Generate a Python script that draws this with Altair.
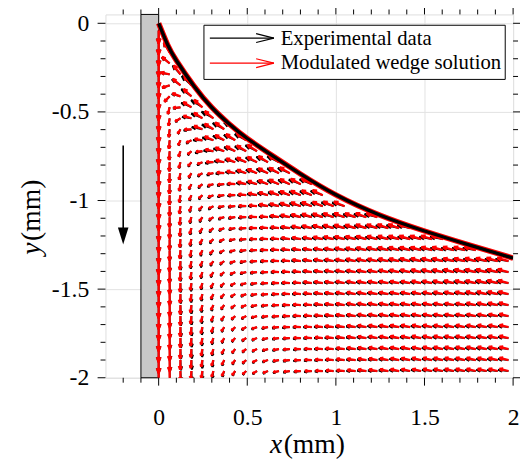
import math
import altair as alt
import pandas as pd

FONT = "Liberation Serif"

# ---------------- data ----------------
# grid of the velocity field (mm)
COL_X = [0.000, 0.062, 0.123, 0.185, 0.247, 0.309, 0.370, 0.432, 0.494, 0.555, 0.617,
         0.679, 0.740, 0.802, 0.864, 0.926, 0.987, 1.049, 1.111, 1.172, 1.234, 1.296,
         1.357, 1.419, 1.481, 1.543, 1.604, 1.666, 1.728, 1.789, 1.851, 1.913, 1.974]
ROW_Y = [-0.040, -0.102, -0.164, -0.226, -0.288, -0.350, -0.412, -0.474, -0.536, -0.598,
         -0.660, -0.722, -0.784, -0.846, -0.908, -0.970, -1.032, -1.094, -1.156, -1.218,
         -1.280, -1.342, -1.404, -1.466, -1.528, -1.590, -1.652, -1.714, -1.776, -1.838,
         -1.900, -1.962]

# modulated wedge solution: per row, "direction(deg)/speed(% of plate speed)", "*n" = repeated n times
MODEL_ROWS = [
    "270/100",
    "270/100",
    "270/100 120/86",
    "270/100 140/76",
    "270/100 168/67 127/85",
    "270/100 197/60 140/76 128/89",
    "270/100 225/57 160/65 137/82",
    "270/100 255/53 184/55 148/74 138/85",
    "270/100 262/57 211/46 163/63 147/77 141/86",
    "270/100 264/60 238/39 181/52 158/69 148/79 143/86 141/89",
    "270/100 265/64 245/41 204/41 169/59 156/72 150/80 147/85 144/88",
    "270/100 266/67 249/43 219/36 184/48 166/62 157/73 152/80 149/84 146/88",
    "270/100 267/69 253/46 227/37 199/39 177/53 165/66 158/73 154/79 151/83 148/87 147/89",
    "270/100 268/71 256/49 234/38 206/37 187/44 174/56 165/66 159/73 156/79 153/83 151/86 150/88",
    "270/100 268/73 258/51 239/39 214/37 193/42 182/48 173/57 165/67 160/73 157/78 155/82 153/84 152/87 151/89",
    "270/100 268/74 260/54 243/40 220/36 198/40 185/46 178/52 172/59 166/67 162/72 159/77 157/80 156/83 155/85 154/87",
    "270/100 269/76 261/56 247/42 226/37 204/38 188/43 181/49 176/55 172/60 167/67 164/72 161/76 159/79 158/82 157/84 156/86 157/88",
    "270/100 269/77 263/58 250/43 231/37 209/37 193/41 184/47 178/53 174/58 172/61 168/65 165/70 163/74 161/78 160/80 159/83 159/85 160/86 159/87 160/89",
    "270/100 269/78 264/60 252/45 235/38 215/37 198/40 186/45 180/50 176/55 173/59 171/62 169/65 166/69 165/73 163/76 162/79 162/81 162/82 161/84 161/85 161/87 161/88 161/89",
    "270/100 269/79 264/61 254/48 239/39 220/36 203/38 189/43 182/48 177/53 174/57 172/61 169/63 168/65 167/67 166/72 165/75 164/77 164/79 163/80 163/82 163/83 163/84 163/86 163/87 163/88 163/89",
    "270/100 269/80 265/63 256/49 243/40 225/37 207/37 193/41 185/46 179/51 176/55 173/59 171/62 169/64 168/65 167/67 167/70 166/73 166/75 165/77 165/78 165/80 164/81 164/82 164/83 164/85 164/86 164/87 164/88 164/89",
    "270/100 269/81 266/65 257/50 246/41 229/37 212/37 197/40 187/44 181/49 177/53 174/57 172/60 170/63 168/64 167/66 167/67 167/69 166/72 166/73 166/75 166/76 166/77 165/79 165/80 165/81 165/82 165/83 165/84 164/85 164/86 164/88 164/89",
    "270/100 269/82 266/66 259/52 248/42 233/38 216/36 201/39 189/43 183/47 179/51 175/55 173/58 171/61 169/63 168/65 167/66 167/68 167/69 167/70 167/71 166/72 166/74 166/75 166/76 166/78 166/79 165/80 165/81 165/82 165/83 165/84 165/85",
    "270/100 270/83 267/67 260/54 250/43 237/38 220/36 205/37 193/41 186/45 180/50 177/53 174/57 172/59 170/62 169/64 168/65 167/67 167/68 167/69 167/70*3 167/71 167/73 166/74 166/75 166/76 166/77 166/78 165/79 165/81 165/82",
    "270/100 270/83 267/68 261/55 252/45 240/39 225/37 209/37 197/40 187/44 182/48 178/52 175/55 173/58 171/61 169/63 168/64 167/66 167/67 167/68 167/69 167/70*4 167/71 167/72 166/73 166/74 166/75 166/76 166/77 166/78",
    "270/100 270/84 268/70 262/57 253/47 242/40 229/37 214/37 200/39 190/43 184/47 180/50 177/53 174/57 172/59 170/62 169/63 168/65 167/66 167/67 167/69 167/69 167/70*7 167/71 167/72 167/73 166/74",
    "270/100 270/85 268/71 263/58 255/48 244/41 232/38 218/36 205/38 193/41 186/45 182/49 178/52 175/55 173/58 172/61 170/63 169/64 168/65 167/66 167/68 167/69 167/69 167/70*9 167/71",
    "270/100 270/85 268/72 264/59 256/49 247/42 235/38 221/36 207/37 197/40 188/44 183/47 179/51 176/54 174/57 172/59 171/62 170/63 169/64 168/66 167/67 167/68 167/69 167/70*10",
    "270/100 270/85 268/72 264/60 257/50 248/43 237/38 224/36 211/37 200/39 190/43 185/46 181/49 178/53 175/56 173/58 172/60 170/62 169/64 168/65 167/66 167/67 167/68 167/69 167/70*9",
    "270/100 270/86 268/73 265/62 258/51 250/44 240/39 228/37 215/36 203/38 193/41 187/45 182/48 179/51 176/54 174/57 173/59 171/61 170/63 169/64 168/65 167/66 167/67 167/68 167/69 167/70*8",
    "270/100 270/86 268/74 265/62 259/52 252/45 242/40 231/37 218/36 206/37 196/40 188/44 184/47 180/50 177/53 175/56 173/58 172/60 171/62 170/63 169/64 168/65 167/66 167/68 167/69 167/69 167/70*7",
    "270/100 270/87 269/74 265/63 260/54 253/46 244/41 233/38 221/36 209/37 200/39 191/43 186/45 182/48 179/52 176/54 174/57 173/59 172/61 170/63 170/64 169/65 168/66 167/67 167/68 167/69 167/69 167/70*6",
]

# experimental data: read as small deviations from the model, per grid column
EXP_DTHETA = [0, 2, 5, 8, 10, 10, 9, 8, 8, 7, 7, 7, 7, 7, 7, 7, 7, 7, 7, 7, 7, 7, 7, 7,
              7, 7, 7, 7, 7, 7, 7, 7, 7]
EXP_SCALE = [1.0, 1.0, 1.05, 1.15, 1.2, 1.2, 1.15, 1.12, 1.12, 1.12, 1.12, 1.12, 1.12,
             1.12, 1.12, 1.12, 1.12, 1.12, 1.12, 1.12, 1.12, 1.12, 1.12, 1.12, 1.12,
             1.12, 1.12, 1.12, 1.12, 1.12, 1.12, 1.12, 1.12]

# free surface (meniscus)
SURF_X = [0.0, 0.05, 0.1, 0.2, 0.3, 0.4, 0.5, 0.65, 0.8, 1.0, 1.25, 1.5, 1.75, 2.0]
SURF_Y = [0.0, -0.12, -0.21, -0.355, -0.475, -0.57, -0.65, -0.752, -0.85, -0.968, -1.083, -1.172, -1.25, -1.325]

# plate (grey strip) and its motion arrow
WALL_X = [-0.1, 0.0]
PLATE_ARROW_X = [-0.2]
PLATE_ARROW_TOP = [-0.69]
PLATE_ARROW_HEAD = [-1.20]

X_MAJOR = [0, 0.5, 1, 1.5, 2]
Y_MAJOR = [-2, -1.5, -1, -0.5, 0]
X_MINOR = [-0.2, -0.1, 0.1, 0.2, 0.3, 0.4, 0.6, 0.7, 0.8, 0.9, 1.1, 1.2, 1.3, 1.4,
           1.6, 1.7, 1.8, 1.9]
Y_MINOR = [-0.1, -0.2, -0.3, -0.4, -0.6, -0.7, -0.8, -0.9, -1.1, -1.2, -1.3, -1.4,
           -1.6, -1.7, -1.8, -1.9]

LEGEND = ["Experimental data", "Modulated wedge solution"]

# ---------------- build arrows (MATLAB quiver style) ----------------
ARROW_SCALE = 0.074
ALPHA, BETA = 0.38, 0.38


def parse_row(s):
    out = []
    for tok in s.split():
        if "*" in tok:
            v, n = tok.split("*")
            n = int(n)
        else:
            v, n = tok, 1
        d, sp = v.split("/")
        out += [(float(d), float(sp))] * n
    return out[:len(COL_X)]


ROWS = [parse_row(s) for s in MODEL_ROWS]


def build(dtheta, scale):
    recs = []
    for k, row in enumerate(ROWS):
        y0 = ROW_Y[k]
        for j, (d, sp) in enumerate(row):
            x0 = COL_X[j]
            ang = math.radians(d + dtheta[j])
            L = sp / 100.0 * ARROW_SCALE * scale[j]
            u, v = L * math.cos(ang), L * math.sin(ang)
            xt, yt = x0 + u, y0 + v
            recs.append(dict(x=x0, y=y0, x2=xt, y2=yt))
            recs.append(dict(x=xt - ALPHA * (u + BETA * v), y=yt - ALPHA * (v - BETA * u), x2=xt, y2=yt))
            recs.append(dict(x=xt - ALPHA * (u - BETA * v), y=yt - ALPHA * (v + BETA * u), x2=xt, y2=yt))
    return pd.DataFrame(recs)


model_df = build([0] * len(COL_X), [1.0] * len(COL_X))
exp_df = build(EXP_DTHETA, EXP_SCALE)

W, H = 414, 369

XS = alt.Scale(domain=[-0.3, 2.0], nice=False, zero=False)
YS = alt.Scale(domain=[-2.0, 0.05], nice=False, zero=False)
XAX = alt.Axis(values=X_MAJOR, title=None, ticks=False, domain=False, grid=True,
               gridColor="#e2e2e2", gridWidth=1, labelExpr="'' + datum.value",
               labelFlush=False, labelOverlap=False, labelPadding=28, labelFont=FONT,
               labelFontSize=24, labelColor="black")
YAX = alt.Axis(values=Y_MAJOR, title=None, ticks=False, domain=False, grid=True,
               gridColor="#e2e2e2", gridWidth=1, labelExpr="'' + datum.value",
               labelFlush=False, labelOverlap=False, labelPadding=17, labelFont=FONT,
               labelFontSize=24, labelColor="black")


def X(f):
    return alt.X(f"{f}:Q", scale=XS, axis=XAX)


def Y(f):
    return alt.Y(f"{f}:Q", scale=YS, axis=YAX)


wall_df = pd.DataFrame({"x": [WALL_X[0]], "x2": [WALL_X[1]], "y": [-2.0], "y2": [0.05]})
wall = alt.Chart(wall_df).mark_rect(fill="#c8c8c8", stroke="black", strokeWidth=1).encode(
    x=X("x"), x2="x2:Q", y=Y("y"), y2="y2:Q")

exp_layer = alt.Chart(exp_df).mark_rule(color="black", strokeWidth=1.8, clip=True).encode(
    x=X("x"), y=Y("y"), x2="x2:Q", y2="y2:Q")
model_layer = alt.Chart(model_df).mark_rule(color="#ff0000", strokeWidth=2.3, clip=True).encode(
    x=X("x"), y=Y("y"), x2="x2:Q", y2="y2:Q")

surf_df = pd.DataFrame({"x": SURF_X, "y": SURF_Y, "o": list(range(len(SURF_X)))})
surf_red = alt.Chart(surf_df).mark_line(color="#ff0000", strokeWidth=5.5, interpolate="natural", clip=True).encode(
    x=X("x"), y=Y("y"), order="o:Q")
surf_black = alt.Chart(surf_df).mark_line(color="black", strokeWidth=3.4, interpolate="natural", clip=True).encode(
    x=X("x"), y=Y("y"), order="o:Q")

pa_df = pd.DataFrame({"x": PLATE_ARROW_X, "y": PLATE_ARROW_TOP, "y2": PLATE_ARROW_HEAD, "yh": PLATE_ARROW_HEAD})
pa_shaft = alt.Chart(pa_df).mark_rule(color="black", strokeWidth=1.6).encode(
    x=X("x"), y=Y("y"), y2="y2:Q")
pa_head = alt.Chart(pa_df).mark_point(shape="M-0.62,-1L0.62,-1L0,1Z", filled=True, color="black",
                                      opacity=1, size=300).encode(x=X("x"), y=Y("yh"))


def ticks_x(vals, ln):
    d = pd.DataFrame({"v": vals})
    b = alt.Chart(d).mark_rule(color="black", strokeWidth=1).encode(
        x=X("v"), y=alt.value(H), y2=alt.value(H + ln))
    t = alt.Chart(d).mark_rule(color="black", strokeWidth=1).encode(
        x=X("v"), y=alt.value(0), y2=alt.value(-ln))
    return [b, t]


def ticks_y(vals, ln):
    d = pd.DataFrame({"v": vals})
    l = alt.Chart(d).mark_rule(color="black", strokeWidth=1).encode(
        y=Y("v"), x=alt.value(0), x2=alt.value(-ln))
    r = alt.Chart(d).mark_rule(color="black", strokeWidth=1).encode(
        y=Y("v"), x=alt.value(W), x2=alt.value(W + ln))
    return [l, r]


tick_layers = ticks_x(X_MAJOR, 8) + ticks_x(X_MINOR, 5) + ticks_y(Y_MAJOR, 8) + ticks_y(Y_MINOR, 5)

one = pd.DataFrame({"a": [0]})

# legend box
leg_box = alt.Chart(one).mark_rect(fill="white", stroke="black", strokeWidth=1).encode(
    x=alt.value(100), x2=alt.value(406), y=alt.value(11), y2=alt.value(66))


def leg_arrow(yy, col):
    return [
        alt.Chart(one).mark_rule(color=col, strokeWidth=1.2).encode(
            x=alt.value(106), x2=alt.value(171), y=alt.value(yy), y2=alt.value(yy)),
        alt.Chart(one).mark_rule(color=col, strokeWidth=1.2).encode(
            x=alt.value(153), x2=alt.value(171), y=alt.value(yy - 4.5), y2=alt.value(yy)),
        alt.Chart(one).mark_rule(color=col, strokeWidth=1.2).encode(
            x=alt.value(153), x2=alt.value(171), y=alt.value(yy + 4.5), y2=alt.value(yy)),
    ]


leg_items = leg_arrow(24, "black") + leg_arrow(49.5, "#ff0000")
leg_text = [
    alt.Chart(one).mark_text(text=LEGEND[0], font=FONT, fontSize=21, align="left",
                             baseline="alphabetic", color="black").encode(
        x=alt.value(178), y=alt.value(31)),
    alt.Chart(one).mark_text(text=LEGEND[1], font=FONT, fontSize=21, align="left",
                             baseline="alphabetic", color="black").encode(
        x=alt.value(178), y=alt.value(55)),
]

# axis titles
titles = [
    alt.Chart(one).mark_text(text="x", font=FONT, fontSize=28, fontStyle="italic",
                             align="left", baseline="alphabetic", color="black").encode(
        x=alt.value(167), y=alt.value(445)),
    alt.Chart(one).mark_text(text="(mm)", font=FONT, fontSize=28, align="left",
                             baseline="alphabetic", color="black").encode(
        x=alt.value(181), y=alt.value(445)),
    alt.Chart(one).mark_text(text="y", font=FONT, fontSize=28, fontStyle="italic", angle=270,
                             align="left", baseline="alphabetic", color="black").encode(
        x=alt.value(-66), y=alt.value(244)),
    alt.Chart(one).mark_text(text="(mm)", font=FONT, fontSize=28, angle=270,
                             align="left", baseline="alphabetic", color="black").encode(
        x=alt.value(-66), y=alt.value(230)),
]

chart = alt.layer(
    wall, exp_layer, model_layer, surf_red, surf_black, pa_shaft, pa_head,
    *tick_layers, leg_box, *leg_items, *leg_text, *titles
).properties(
    width=W, height=H,
    padding={"left": 99, "top": 3, "right": 7, "bottom": 80},
    autosize=alt.AutoSizeParams(type="none"),
).configure_view(stroke="black", strokeWidth=1).configure(background="white")

chart.save("out.html", embed_options={"renderer": "svg", "actions": False})
